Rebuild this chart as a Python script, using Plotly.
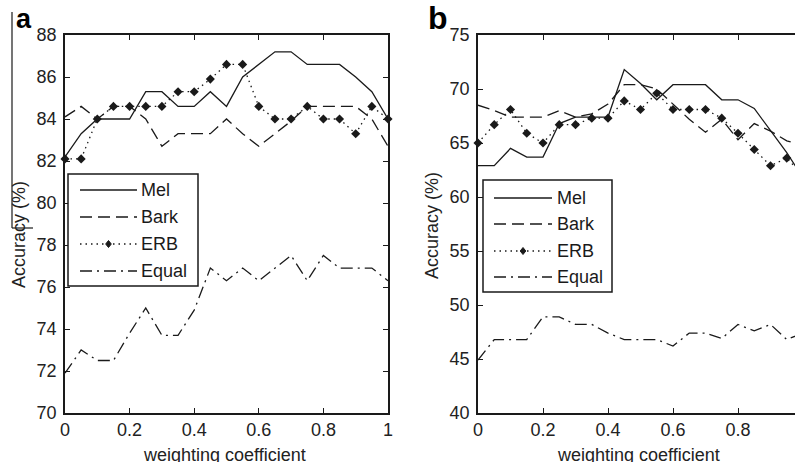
import plotly.graph_objects as go

# ---------------- data ----------------
weights = [0.0, 0.05, 0.1, 0.15, 0.2, 0.25, 0.3, 0.35, 0.4, 0.45, 0.5,
           0.55, 0.6, 0.65, 0.7, 0.75, 0.8, 0.85, 0.9, 0.95, 1.0]

a_mel = [82.2, 83.3, 84.0, 84.0, 84.0, 85.3, 85.3, 84.6, 84.6, 85.3, 84.6,
         86.0, 86.6, 87.2, 87.2, 86.6, 86.6, 86.6, 86.0, 85.3, 84.0]
a_bark = [84.1, 84.6, 84.0, 84.6, 84.6, 84.0, 82.7, 83.3, 83.3, 83.3, 84.0,
          83.3, 82.7, 83.3, 83.9, 84.6, 84.6, 84.6, 84.6, 84.0, 82.7]
a_erb = [82.1, 82.1, 84.0, 84.6, 84.6, 84.6, 84.6, 85.3, 85.3, 85.9, 86.6,
         86.6, 84.6, 84.0, 84.0, 84.6, 84.0, 84.0, 83.3, 84.6, 84.0]
a_equal = [71.9, 73.0, 72.5, 72.5, 73.8, 75.0, 73.7, 73.7, 74.9, 76.9, 76.3,
           76.9, 76.3, 76.9, 77.5, 76.3, 77.5, 76.9, 76.9, 76.9, 76.3]

b_mel = [62.9, 62.9, 64.5, 63.7, 63.7, 66.8, 67.4, 67.4, 67.4, 71.8, 70.5,
         69.0, 70.4, 70.4, 70.4, 69.0, 69.0, 68.2, 66.2, 64.1, 61.8]
b_bark = [68.5, 68.0, 67.4, 67.4, 67.4, 68.0, 67.4, 67.7, 68.6, 70.4, 70.4,
          70.0, 68.6, 67.2, 66.0, 67.2, 65.3, 66.8, 66.1, 65.2, 64.8]
b_erb = [65.0, 66.7, 68.1, 65.9, 65.0, 66.7, 66.7, 67.3, 67.3, 68.9, 68.1,
         69.6, 68.1, 68.1, 68.1, 67.3, 65.9, 64.4, 62.9, 63.6, 62.0]
b_equal = [44.9, 46.8, 46.8, 46.8, 48.9, 48.9, 48.2, 48.2, 47.4, 46.8, 46.8,
           46.8, 46.2, 47.4, 47.4, 46.9, 48.2, 47.6, 48.2, 46.8, 47.4]

series_names = ["Mel", "Bark", "ERB", "Equal"]
x_ticks = [0, 0.2, 0.4, 0.6, 0.8, 1]
x_tick_labels = ["0", "0.2", "0.4", "0.6", "0.8", "1"]
a_y_ticks = [70, 72, 74, 76, 78, 80, 82, 84, 86, 88]
b_y_ticks = [40, 45, 50, 55, 60, 65, 70, 75]
x_title = "weighting coefficient"
y_title = "Accuracy (%)"

# ---------------- styling ----------------
W, H = 795, 462
FONT = "Liberation Sans, Arial, sans-serif"
INK = "#1a1a1a"
dashes = {"Mel": "solid", "Bark": "12px,6px", "ERB": "1.5px,4px", "Equal": "12px,5px,2px,5px"}

fig = go.Figure()
panels = [
    ("x", "y", [a_mel, a_bark, a_erb, a_equal]),
    ("x2", "y2", [b_mel, b_bark, b_erb, b_equal]),
]
for xa, ya, vals in panels:
    for name, v in zip(series_names, vals):
        kw = dict(mode="lines")
        if name == "ERB":
            kw = dict(mode="lines+markers",
                      marker=dict(symbol="diamond", size=7, color=INK))
        fig.add_trace(go.Scatter(
            x=weights, y=v, name=name, xaxis=xa, yaxis=ya, showlegend=False,
            cliponaxis=False, line=dict(color=INK, width=1.3, dash=dashes[name]),
            **kw))


def px(x):
    return x / W


def py(y):
    return 1 - y / H


axis_common = dict(
    showline=True, linecolor=INK, linewidth=1.5, ticks="inside", ticklen=5,
    tickwidth=1.2, tickcolor=INK, showgrid=False, zeroline=False,
    automargin=False,
    tickfont=dict(family=FONT, size=18, color="#222"),
)

fig.update_layout(
    width=W, height=H, margin=dict(l=0, r=0, t=0, b=0),
    paper_bgcolor="white", plot_bgcolor="white",
    font=dict(family=FONT, color=INK), showlegend=False,
    xaxis=dict(domain=[px(65), px(388)], range=[0, 1], tickvals=x_ticks,
               ticktext=x_tick_labels, mirror="ticks", ticklabelstandoff=0,
               anchor="y", **axis_common),
    yaxis=dict(domain=[py(413), py(35)], range=[70, 88], tickvals=a_y_ticks,
               mirror="ticks", ticklabelstandoff=3, anchor="x", **axis_common),
    xaxis2=dict(domain=[px(478), 1.0], range=[0, (W - 478) / 325.0],
                tickvals=x_ticks[:-1], ticktext=x_tick_labels[:-1], mirror="ticks",
                ticklabelstandoff=0, anchor="y2", **axis_common),
    yaxis2=dict(domain=[py(413), py(35)], range=[40, 75], tickvals=b_y_ticks,
                mirror=False, ticklabelstandoff=3, anchor="x2", **axis_common),
)

annotations = [
    dict(text="<b>a</b>", x=px(14), y=py(36), xanchor="left", yanchor="bottom",
         font=dict(family=FONT, size=27, color="black")),
    dict(text="<b>b</b>", x=px(426), y=py(38), xanchor="left", yanchor="bottom",
         font=dict(family=FONT, size=32, color="black")),
    dict(text=x_title, x=px(224), y=py(443), xanchor="center", yanchor="top",
         font=dict(family=FONT, size=18, color="#222")),
    dict(text=x_title, x=px(638), y=py(443), xanchor="center", yanchor="top",
         font=dict(family=FONT, size=18, color="#222")),
    dict(text=y_title, x=px(19), y=py(235), xanchor="center", yanchor="middle",
         textangle=-90, font=dict(family=FONT, size=18, color="#222")),
    dict(text=y_title, x=px(432), y=py(226), xanchor="center", yanchor="middle",
         textangle=-90, font=dict(family=FONT, size=18, color="#222")),
]

shapes = []
# hand-drawn legends (MATLAB style boxes)
legend_boxes = [
    dict(x0=68, x1=198, y0=174, y1=286, lx0=80, lx1=137, tx=139, ys=[190, 217, 244, 271]),
    dict(x0=483, x1=612, y0=180, y1=292, lx0=494, lx1=552, tx=555, ys=[198, 224, 251, 277]),
]
for lb in legend_boxes:
    shapes.append(dict(type="rect", xref="paper", yref="paper",
                       x0=px(lb["x0"]), x1=px(lb["x1"]), y0=py(lb["y1"]), y1=py(lb["y0"]),
                       fillcolor="white", line=dict(color=INK, width=1.5), layer="above"))
    for name, yy in zip(series_names, lb["ys"]):
        shapes.append(dict(type="line", xref="paper", yref="paper",
                           x0=px(lb["lx0"]), x1=px(lb["lx1"]), y0=py(yy), y1=py(yy),
                           line=dict(color=INK, width=1.3, dash=dashes[name]),
                           layer="above"))
        if name == "ERB":
            cx = (lb["lx0"] + lb["lx1"]) / 2
            r = 3.5
            path = "M {} {} L {} {} L {} {} L {} {} Z".format(
                px(cx), py(yy - r), px(cx + r * 0.8), py(yy),
                px(cx), py(yy + r), px(cx - r * 0.8), py(yy))
            shapes.append(dict(type="path", xref="paper", yref="paper", path=path,
                               fillcolor=INK, line=dict(color=INK, width=1),
                               layer="above"))
        annotations.append(dict(text=name, x=px(lb["tx"]), y=py(yy), xanchor="left",
                                yanchor="middle",
                                font=dict(family=FONT, size=18, color=INK)))

# crop artefact lines at far left of the scanned figure
shapes.append(dict(type="line", xref="paper", yref="paper", x0=px(12), x1=px(12),
                   y0=py(12), y1=py(228), line=dict(color=INK, width=1.2)))
shapes.append(dict(type="line", xref="paper", yref="paper", x0=px(12), x1=px(33),
                   y0=py(228), y1=py(228), line=dict(color=INK, width=1.2)))

for a in annotations:
    a.update(xref="paper", yref="paper", showarrow=False)
fig.update_layout(annotations=annotations, shapes=shapes)

fig.write_html("out.html")
